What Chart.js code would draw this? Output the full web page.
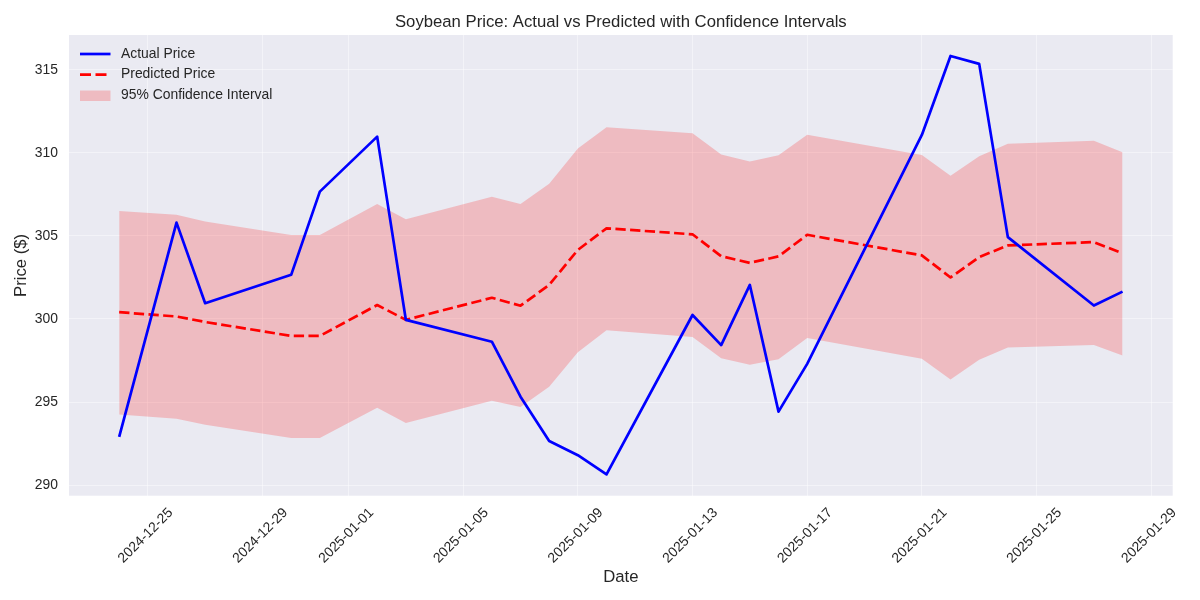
<!DOCTYPE html>
<html lang="en">
<head>
<meta charset="UTF-8">
<title>Soybean Price: Actual vs Predicted</title>
<script src="https://cdn.jsdelivr.net/npm/chart.js"></script>
<style>
    body { margin: 0; background: #ffffff; }
    #wrap { width: 1200px; height: 600px; }
</style>
</head>
<body>
<div id="wrap"><canvas id="priceChart"></canvas></div>
<script>
// values (trading days only)
var dates = ['2024-12-24', '2024-12-26', '2024-12-27', '2024-12-30', '2024-12-31', '2025-01-02',
             '2025-01-03', '2025-01-06', '2025-01-07', '2025-01-08', '2025-01-09', '2025-01-10',
             '2025-01-13', '2025-01-14', '2025-01-15', '2025-01-16', '2025-01-17', '2025-01-21',
             '2025-01-22', '2025-01-23', '2025-01-24', '2025-01-27', '2025-01-28'];
var actualPrice = [292.9, 305.8, 300.95, 302.66, 307.67, 310.98, 299.95, 298.63, 295.32, 292.65, 291.8, 290.64,
                   300.24, 298.43, 302.05, 294.42, 297.3, 311.08, 315.84, 315.36, 304.93, 300.81, 301.65];
var predictedPrice = [300.41, 300.15, 299.82, 298.98, 298.98, 300.84, 299.95, 301.28, 300.8, 302.05, 304.16, 305.46,
                      305.1, 303.78, 303.38, 303.77, 305.07, 303.83, 302.5, 303.73, 304.43, 304.63, 303.95];
var upperBound = [306.5, 306.27, 305.87, 305.06, 305.06, 306.93, 306.0, 307.36, 306.93, 308.15, 310.27, 311.54,
                  311.18, 309.9, 309.48, 309.86, 311.1, 309.88, 308.62, 309.8, 310.55, 310.73, 310.04];
var lowerBound = [294.25, 294.0, 293.63, 292.83, 292.83, 294.65, 293.73, 295.08, 294.7, 295.92, 298.0, 299.32,
                  298.92, 297.64, 297.24, 297.58, 298.85, 297.6, 296.35, 297.55, 298.28, 298.44, 297.8];

var tickDates = ['2024-12-25', '2024-12-29', '2025-01-01', '2025-01-05', '2025-01-09',
                 '2025-01-13', '2025-01-17', '2025-01-21', '2025-01-25', '2025-01-29'];
var priceTicks = [290, 295, 300, 305, 310, 315];

var FONT = '"Liberation Sans", Arial, sans-serif';
var TEXT = '#262626';
var FILL = 'rgba(255, 0, 0, 0.2)';

// x axis is linear in days counted from the first date
var day0 = Date.parse(dates[0]);
function dayOf(d) { return (Date.parse(d) - day0) / 86400000; }
function toPoints(vals) {
    return dates.map(function (d, i) { return { x: dayOf(d), y: vals[i] }; });
}

// grey plot background like seaborn darkgrid
var plotBg = {
    id: 'plotBg',
    beforeDraw: function (chart) {
        var a = chart.chartArea, ctx = chart.ctx;
        ctx.save();
        ctx.fillStyle = '#eaeaf2';
        ctx.fillRect(a.left, a.top, a.right - a.left, a.bottom - a.top);
        ctx.restore();
    }
};

// title centred over the plot area + legend in the top-left corner
var decorations = {
    id: 'decorations',
    afterDraw: function (chart) {
        var a = chart.chartArea, ctx = chart.ctx;
        ctx.save();
        ctx.fillStyle = TEXT;
        ctx.font = '16.7px ' + FONT;
        ctx.textAlign = 'center';
        ctx.textBaseline = 'alphabetic';
        ctx.fillText('Soybean Price: Actual vs Predicted with Confidence Intervals', (a.left + a.right) / 2, 26.5);

        var x0 = 80, x1 = 110.5, tx = 121;
        var rows = [54, 74.6, 95.5];
        ctx.lineWidth = 2.7;
        ctx.strokeStyle = '#0000ff';
        ctx.beginPath(); ctx.moveTo(x0, rows[0]); ctx.lineTo(x1, rows[0]); ctx.stroke();
        ctx.strokeStyle = '#ff0000';
        ctx.setLineDash([11, 4.5]);
        ctx.beginPath(); ctx.moveTo(x0, rows[1]); ctx.lineTo(x1, rows[1]); ctx.stroke();
        ctx.setLineDash([]);
        ctx.fillStyle = FILL;
        ctx.fillRect(x0, rows[2] - 5, x1 - x0, 10.5);

        ctx.fillStyle = TEXT;
        ctx.font = '13.9px ' + FONT;
        ctx.textAlign = 'left';
        ctx.textBaseline = 'middle';
        ctx.fillText('Actual Price', tx, rows[0]);
        ctx.fillText('Predicted Price', tx, rows[1]);
        ctx.fillText('95% Confidence Interval', tx, rows[2]);
        ctx.restore();
    }
};

var ctx = document.getElementById('priceChart').getContext('2d');
var priceChart = new Chart(ctx, {
    type: 'line',
    data: {
        datasets: [{
            label: 'Actual Price',
            data: toPoints(actualPrice),
            borderColor: '#0000ff',
            borderWidth: 2.7,
            borderJoinStyle: 'round',
            pointRadius: 0,
            fill: false
        }, {
            label: 'Predicted Price',
            data: toPoints(predictedPrice),
            borderColor: '#ff0000',
            borderWidth: 2.7,
            borderDash: [10.3, 4.4],
            borderJoinStyle: 'round',
            pointRadius: 0,
            fill: false
        }, {
            label: '95% Confidence Interval',
            data: toPoints(upperBound),
            borderColor: 'transparent',
            borderWidth: 0,
            backgroundColor: FILL,
            pointRadius: 0,
            fill: '+1'
        }, {
            label: 'lower',
            data: toPoints(lowerBound),
            borderColor: 'transparent',
            borderWidth: 0,
            pointRadius: 0,
            fill: false
        }]
    },
    options: {
        responsive: true,
        maintainAspectRatio: false,
        animation: false,
        events: [],
        layout: { padding: { top: 35, right: 27.3, left: 0, bottom: 0 } },
        plugins: {
            legend: { display: false },
            tooltip: { enabled: false },
            filler: { drawTime: 'beforeDatasetsDraw' }
        },
        scales: {
            x: {
                type: 'linear',
                min: -1.75,
                max: 36.75,
                afterBuildTicks: function (scale) {
                    scale.ticks = tickDates.map(function (d) { return { value: dayOf(d) }; });
                },
                afterFit: function (scale) { scale.height = 104.3; },
                ticks: {
                    autoSkip: false,
                    minRotation: 45,
                    maxRotation: 45,
                    padding: 9,
                    labelOffset: 23,
                    color: TEXT,
                    font: { family: FONT, size: 13.9 },
                    callback: function (value) {
                        var i = tickDates.map(dayOf).indexOf(value);
                        return i >= 0 ? tickDates[i] : '';
                    }
                },
                grid: { color: 'rgba(255,255,255,0.45)', lineWidth: 1, drawTicks: false },
                border: { display: false },
                title: {
                    display: true,
                    text: 'Date',
                    color: TEXT,
                    font: { family: FONT, size: 16.7 },
                    padding: { top: 0, bottom: 13 }
                }
            },
            y: {
                min: 289.36,
                max: 317.1,
                afterBuildTicks: function (scale) {
                    scale.ticks = priceTicks.map(function (v) { return { value: v }; });
                },
                afterFit: function (scale) { scale.width = 69; },
                ticks: {
                    padding: 11,
                    color: TEXT,
                    font: { family: FONT, size: 13.9 }
                },
                grid: { color: 'rgba(255,255,255,0.45)', lineWidth: 1, drawTicks: false },
                border: { display: false },
                title: {
                    display: true,
                    text: 'Price ($)',
                    color: TEXT,
                    font: { family: FONT, size: 16.7 },
                    padding: { top: 11, bottom: 0 }
                }
            }
        }
    },
    plugins: [plotBg, decorations]
});
</script>
</body>
</html>
